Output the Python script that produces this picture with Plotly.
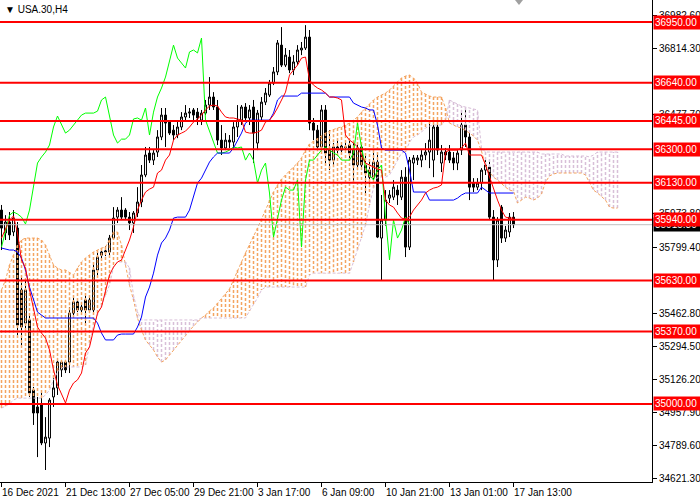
import plotly.graph_objects as go

# USA.30 H4 candles, bar index 0..128
opens = [35990, 35873, 35929, 35878, 35898, 35582, 35413, 35429, 35071, 34985,
         34995, 34801, 34826, 35036, 35082, 35174, 35214, 35214, 35464, 35521,
         35480, 35531, 35480, 35480, 35684, 35760, 35776, 35776, 35847, 35954,
         35990, 35990, 35954, 35924, 35975, 36031, 36169, 36281, 36245, 36286,
         36363, 36475, 36439, 36398, 36373, 36414, 36465, 36485, 36501, 36490,
         36449, 36485, 36526, 36567, 36516, 36347, 36307, 36347, 36337, 36414,
         36449, 36516, 36460, 36516, 36332, 36465, 36541, 36577, 36638, 36695,
         36832, 36730, 36771, 36705, 36746, 36807, 36817, 36873, 36434, 36398,
         36312, 36501, 36296, 36245, 36312, 36296, 36312, 36322, 36296, 36220,
         36312, 36220, 36194, 36158, 36235, 35847, 35939, 36051, 36056, 36092,
         36056, 36158, 35801, 36230, 36245, 36245, 36271, 36286, 36245, 36414,
         36230, 36286, 36286, 36256, 36230, 36296, 36424, 36363, 36128, 36107,
         36128, 36194, 36209, 35954, 35735, 36005, 35847, 35878, 35954]
highs = [36016, 35964, 35980, 35990, 35929, 35658, 35633, 35464, 35087, 35036,
         35071, 34933, 35030, 35138, 35235, 35225, 35225, 35495, 35541, 35541,
         35521, 35566, 35551, 35719, 35776, 35791, 35806, 35863, 36005, 36005,
         36056, 36000, 35980, 35985, 36107, 36220, 36312, 36312, 36296, 36398,
         36511, 36511, 36449, 36424, 36449, 36490, 36526, 36511, 36511, 36511,
         36501, 36552, 36669, 36592, 36552, 36424, 36383, 36373, 36439, 36526,
         36526, 36536, 36526, 36552, 36501, 36567, 36613, 36654, 36720, 36858,
         36924, 36817, 36807, 36781, 36832, 36848, 36934, 36909, 36460, 36424,
         36526, 36526, 36398, 36332, 36347, 36337, 36347, 36347, 36332, 36322,
         36332, 36281, 36245, 36281, 36271, 36067, 36092, 36092, 36143, 36117,
         36194, 36209, 36261, 36271, 36271, 36296, 36332, 36434, 36434, 36439,
         36322, 36307, 36322, 36286, 36296, 36501, 36501, 36383, 36153, 36153,
         36204, 36245, 36245, 35990, 35954, 36016, 35909, 35975, 35980]
lows = [35786, 35837, 35837, 35857, 35352, 35286, 35368, 35036, 34893, 34729,
        34790, 34663, 34780, 34985, 35046, 35138, 35158, 35158, 35444, 35469,
        35454, 35413, 35464, 35464, 35658, 35745, 35755, 35755, 35837, 35924,
        35939, 35939, 35888, 35873, 35954, 36005, 36158, 36230, 36220, 36261,
        36347, 36312, 36373, 36347, 36357, 36398, 36449, 36460, 36449, 36424,
        36424, 36475, 36501, 36501, 36322, 36271, 36296, 36307, 36307, 36363,
        36424, 36439, 36424, 36230, 36296, 36449, 36526, 36567, 36628, 36679,
        36720, 36720, 36689, 36679, 36730, 36781, 36807, 36398, 36347, 36296,
        36296, 36230, 36194, 36220, 36271, 36271, 36286, 36245, 36128, 36194,
        36194, 36077, 36107, 36143, 35847, 35633, 35910, 36026, 36041, 36016,
        36041, 35750, 35786, 36143, 36220, 36209, 36245, 36204, 36158, 36271,
        36184, 36245, 36230, 36194, 36194, 36271, 36312, 36041, 36082, 36092,
        36092, 36169, 35939, 35633, 35699, 35822, 35827, 35852, 35898]
closes = [35898, 35929, 35863, 35949, 35403, 35393, 35582, 35056, 34954, 34954,
          34801, 34831, 35020, 35082, 35214, 35214, 35174, 35464, 35521, 35480,
          35495, 35480, 35531, 35684, 35750, 35776, 35781, 35847, 35949, 35990,
          35954, 35954, 35924, 35975, 36031, 36169, 36271, 36245, 36281, 36363,
          36475, 36434, 36383, 36373, 36414, 36465, 36485, 36490, 36475, 36460,
          36485, 36526, 36567, 36516, 36347, 36307, 36347, 36337, 36414, 36449,
          36516, 36460, 36501, 36383, 36485, 36541, 36587, 36638, 36695, 36843,
          36730, 36781, 36705, 36746, 36807, 36817, 36873, 36434, 36398, 36312,
          36501, 36281, 36245, 36312, 36296, 36317, 36310, 36281, 36220, 36307,
          36220, 36179, 36158, 36235, 35852, 35939, 36041, 36067, 36107, 36067,
          36158, 35801, 36245, 36256, 36256, 36271, 36286, 36347, 36414, 36296,
          36286, 36271, 36245, 36230, 36281, 36424, 36363, 36107, 36107, 36128,
          36194, 36220, 35954, 35735, 35939, 35847, 35888, 35954, 35915.3]

# Ichimoku lines
tenkan = [35847, 35898, 35939, 35960, 35873, 35735, 35694, 35582, 35480, 35393,
          35362, 35337, 35276, 35174, 35097, 35046, 35005, 35071, 35107, 35123,
          35158, 35260, 35291, 35378, 35464, 35495, 35582, 35658, 35699, 35725,
          35735, 35786, 35837, 35904, 35990, 36041, 36082, 36097, 36107, 36179,
          36194, 36245, 36271, 36347, 36373, 36383, 36393, 36414, 36439, 36455,
          36475, 36501, 36521, 36526, 36521, 36490, 36465, 36460, 36460, 36455,
          36449, 36388, 36383, 36383, 36388, 36398, 36439, 36449, 36475, 36511,
          36552, 36592, 36679, 36705, 36730, 36766, 36771, 36654, 36628, 36613,
          36603, 36587, 36567, 36567, 36562, 36552, 36373, 36347, 36332, 36312,
          36271, 36230, 36220, 36209, 36199, 36194, 36041, 36016, 36005, 35975,
          35949, 35944, 35954, 35990, 36016, 36041, 36077, 36092, 36102, 36107,
          36118, 36286, 36296, 36296, 36296, 36307, 36332, 36271, 36271, 36271,
          36271, 36220, 36158, 36092, 36041, 35990, 35954, 35949, 35949]
kijun = [35796, 35791, 35786, 35786, 35776, 35745, 35684, 35597, 35531, 35469,
         35454, 35439, 35439, 35439, 35439, 35439, 35439, 35439, 35439, 35439,
         35439, 35439, 35439, 35439, 35413, 35362, 35327, 35327, 35327, 35352,
         35357, 35357, 35357, 35357, 35393, 35444, 35546, 35597, 35668, 35760,
         35822, 35847, 35888, 35949, 35954, 35954, 35954, 35990, 36056, 36128,
         36153, 36194, 36235, 36261, 36281, 36281, 36281, 36281, 36307, 36347,
         36383, 36434, 36449, 36449, 36449, 36449, 36449, 36449, 36485, 36552,
         36572, 36572, 36572, 36572, 36572, 36587, 36587, 36587, 36587, 36587,
         36587, 36587, 36567, 36567, 36567, 36567, 36567, 36567, 36536, 36526,
         36516, 36511, 36501, 36501, 36424, 36307, 36296, 36296, 36296, 36296,
         36296, 36281, 36194, 36082, 36082, 36082, 36082, 36041, 36041, 36041,
         36041, 36041, 36041, 36041, 36051, 36067, 36077, 36077, 36077, 36077,
         36107, 36092, 36077, 36077, 36077, 36077, 36077, 36077, 36077]
chikou = [35801, 35888, 35964, 35980, 35970, 35954, 35919, 35990, 36118, 36230,
          36261, 36286, 36322, 36414, 36470, 36424, 36383, 36398, 36424, 36449,
          36475, 36485, 36485, 36485, 36495, 36552, 36567, 36475, 36373, 36332,
          36352, 36352, 36373, 36455, 36460, 36449, 36511, 36373, 36490, 36567,
          36613, 36669, 36746, 36832, 36766, 36741, 36715, 36797, 36807, 36792,
          36868, 36449, 36398, 36337, 36281, 36281, 36286, 36296, 36312, 36307,
          36312, 36245, 36281, 36245, 36128, 36194, 36230, 36077, 35852, 35939,
          36041, 36107, 36092, 36092, 36143, 35801, 36143, 36245, 36245, 36271,
          36296, 36312, 36296, 36281, 36271, 36245, 36245, 36245, 36281, 36434,
          36312, 36209, 36169, 36143, 36194, 36220, 35954, 35735, 35939, 35847,
          35888, 35954, 35915.3]
span_a = [35582, 35633, 35709, 35760, 35811, 35837, 35847, 35847, 35847, 35847,
          35837, 35811, 35760, 35709, 35694, 35684, 35684, 35673, 35658, 35694,
          35725, 35745, 35760, 35776, 35786, 35796, 35801, 35837, 35878, 35878,
          35811, 35709, 35607, 35531, 35439, 35378, 35327, 35301, 35276, 35240,
          35214, 35225, 35250, 35276, 35301, 35327, 35352, 35378, 35398, 35418,
          35439, 35454, 35475, 35490, 35515, 35536, 35561, 35587, 35633, 35684,
          35725, 35771, 35811, 35857, 35898, 35944, 35990, 36041, 36082, 36118,
          36148, 36169, 36189, 36209, 36230, 36256, 36296, 36327, 36342, 36357,
          36368, 36383, 36393, 36403, 36409, 36414, 36424, 36434, 36449, 36465,
          36490, 36511, 36531, 36552, 36567, 36577, 36587, 36603, 36623, 36643,
          36664, 36674, 36679, 36664, 36638, 36592, 36582, 36572, 36567, 36567,
          36567, 36511, 36434, 36424, 36414, 36409, 36398, 36383, 36368, 36347,
          36290, 36220, 36184, 36158, 36143, 36123, 36107, 36092, 36087, 36026,
          36041, 36056, 36051, 36041, 36051, 36072, 36133, 36164, 36174, 36179,
          36179, 36179, 36179, 36179, 36179, 36179, 36169, 36133, 36092, 36077,
          36061, 36041, 36005, 36000, 36000]
span_b = [34979, 34989, 35000, 35020, 35030, 35030, 35030, 35030, 35030, 35030,
          35030, 35046, 35071, 35123, 35163, 35184, 35189, 35189, 35189, 35189,
          35189, 35199, 35301, 35403, 35454, 35505, 35556, 35607, 35699, 35725,
          35725, 35725, 35694, 35556, 35469, 35429, 35429, 35429, 35429, 35429,
          35429, 35429, 35429, 35429, 35429, 35429, 35429, 35429, 35429, 35429,
          35439, 35439, 35439, 35439, 35439, 35439, 35439, 35439, 35439, 35439,
          35439, 35439, 35475, 35505, 35541, 35582, 35597, 35597, 35597, 35597,
          35597, 35597, 35597, 35597, 35597, 35597, 35597, 35658, 35668, 35668,
          35668, 35668, 35668, 35668, 35668, 35668, 35668, 35668, 35725, 35786,
          35847, 35913, 36016, 36103, 36158, 36158, 36158, 36169, 36204, 36245,
          36281, 36286, 36337, 36363, 36373, 36388, 36409, 36419, 36424, 36424,
          36424, 36449, 36552, 36541, 36531, 36521, 36516, 36511, 36506, 36501,
          36307, 36286, 36286, 36286, 36286, 36286, 36286, 36286, 36286, 36286,
          36286, 36286, 36286, 36286, 36286, 36276, 36276, 36276, 36276, 36276,
          36276, 36266, 36266, 36266, 36266, 36266, 36266, 36261, 36271, 36286,
          36286, 36286, 36286, 36286, 36286]

levels = [36950, 36640, 36445, 36300, 36130, 35940, 35630, 35370, 35000]
last_price = 35915.3

# price scale labels that are not hidden behind the level tags
ytick_vals = [34621.3, 34789.6, 34957.9, 35126.2, 35294.5, 35462.8,
              35799.4, 35973.8, 36477.7, 36814.3, 36982.6]
xtick_bars = [0, 16, 32, 48, 64, 80, 96, 112, 128]
xtick_text = ['16 Dec 2021', '21 Dec 13:00', '27 Dec 05:00', '29 Dec 21:00',
              '3 Jan 17:00', '6 Jan 09:00', '10 Jan 21:00', '13 Jan 01:00', '17 Jan 13:00']

FONT = 'Liberation Sans'
SANDY = '#F4A460'
THISTLE = '#D8BFD8'

bars = list(range(len(closes)))
cloud_bars = list(range(len(span_a)))

fig = go.Figure()

fig.add_trace(go.Candlestick(
    x=bars, open=opens, high=highs, low=lows, close=closes,
    increasing=dict(line=dict(color='black', width=1), fillcolor='white'),
    decreasing=dict(line=dict(color='black', width=1), fillcolor='black'),
    whiskerwidth=0, hoverinfo='skip', showlegend=False))

# cloud hatching: a dotted vertical line per bar between the two spans
ux, uy, dx, dy = [], [], [], []
for i, a, b in zip(cloud_bars, span_a, span_b):
    if a >= b:
        ux += [i, i, None]
        uy += [a, b, None]
    else:
        dx += [i, i, None]
        dy += [a, b, None]

hatch = dict(width=1.5, dash='3px,2px')
fig.add_trace(go.Scatter(x=ux, y=uy, mode='lines', hoverinfo='skip', showlegend=False,
                         line=dict(color=SANDY, **hatch)))
fig.add_trace(go.Scatter(x=dx, y=dy, mode='lines', hoverinfo='skip', showlegend=False,
                         line=dict(color=THISTLE, **hatch)))
fig.add_trace(go.Scatter(x=cloud_bars, y=span_a, mode='lines', hoverinfo='skip', showlegend=False,
                         line=dict(color=SANDY, width=1, dash='3px,2px')))
fig.add_trace(go.Scatter(x=cloud_bars, y=span_b, mode='lines', hoverinfo='skip', showlegend=False,
                         line=dict(color=THISTLE, width=1, dash='3px,2px')))

fig.add_trace(go.Scatter(x=list(range(len(chikou))), y=chikou, mode='lines', hoverinfo='skip',
                         showlegend=False, line=dict(color='#00FF00', width=1)))
fig.add_trace(go.Scatter(x=bars, y=kijun, mode='lines', hoverinfo='skip', showlegend=False,
                         line=dict(color='#0000FF', width=1)))
fig.add_trace(go.Scatter(x=bars, y=tenkan, mode='lines', hoverinfo='skip', showlegend=False,
                         line=dict(color='#FF0000', width=1)))

# current price line and horizontal levels
fig.add_shape(type='line', xref='paper', x0=0, x1=1, y0=last_price, y1=last_price,
              line=dict(color='#C0C0C0', width=1), layer='above')
for lv in levels:
    fig.add_shape(type='line', xref='paper', x0=0, x1=1, y0=lv, y1=lv,
                  line=dict(color='#FF0000', width=2), layer='above')

# chart shift marker at the top
fig.add_shape(type='path', xref='paper', yref='paper',
              path=f'M {515/652},1 L {523/652},1 L {519/652},{1 - 5/482} Z',
              fillcolor='#A0A0A0', line=dict(width=0))

annotations = []
annotations.append(dict(x=1, xref='paper', xanchor='left', xshift=1, y=last_price, yref='y',
                        text=f'{last_price:.2f} ', showarrow=False, bgcolor='black',
                        font=dict(family=FONT, size=10, color='white'), borderpad=1))
for lv in levels:
    annotations.append(dict(x=1, xref='paper', xanchor='left', xshift=1, y=lv, yref='y',
                            text=f'{lv:.2f} ', showarrow=False, bgcolor='#FF0000',
                            font=dict(family=FONT, size=10, color='white'), borderpad=1))
for b, t in zip(xtick_bars, xtick_text):
    annotations.append(dict(x=b, xref='x', xanchor='left', xshift=-2, y=0, yref='paper',
                            yanchor='top', yshift=-3, text=t, showarrow=False,
                            font=dict(family=FONT, size=10, color='black')))
annotations.append(dict(x=0, xref='paper', xanchor='left', xshift=3, y=1, yref='paper',
                        yanchor='top', yshift=-2, text='▼ USA.30,H4', showarrow=False,
                        font=dict(family=FONT, size=10, color='black')))

fig.update_layout(
    width=700, height=500, autosize=False,
    margin=dict(l=0, r=48, t=0, b=18, pad=0),
    paper_bgcolor='white', plot_bgcolor='white',
    font=dict(family=FONT, size=10, color='black'),
    showlegend=False,
    annotations=annotations,
    xaxis=dict(range=[-0.375, 162.625], showgrid=False, zeroline=False, showline=True,
               linecolor='black', linewidth=1, ticks='outside', ticklen=4, tickcolor='black',
               tickvals=xtick_bars, showticklabels=False, rangeslider=dict(visible=False),
               fixedrange=True),
    yaxis=dict(range=[34601.8, 37062.3], side='right', showgrid=False, zeroline=False,
               showline=True, linecolor='black', linewidth=1, ticks='outside', ticklen=4,
               tickcolor='black', tickvals=ytick_vals,
               ticktext=[f'{v:.2f}' for v in ytick_vals],
               tickfont=dict(family=FONT, size=10, color='black'), fixedrange=True),
)

fig.write_html('out.html', config={'displayModeBar': False},
               post_script="document.body.style.margin='0';")
